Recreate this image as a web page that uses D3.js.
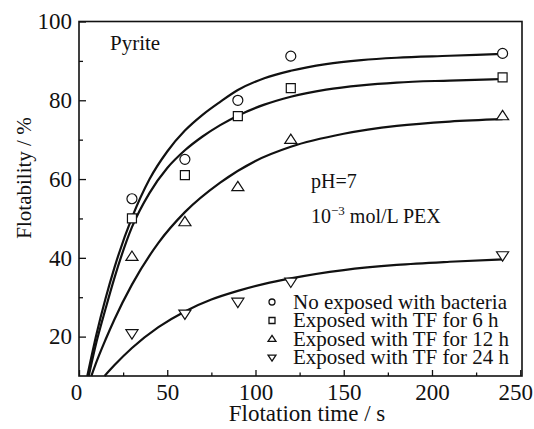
<!DOCTYPE html>
<html>
<head>
<meta charset="utf-8">
<script src="https://cdn.jsdelivr.net/npm/d3@7"></script>
<style>
  body { margin: 0; background: #fff; }
  text { font-family: "Liberation Serif", "Times New Roman", serif; fill: #111; }
</style>
</head>
<body>
<div id="chart"></div>
<script>
// measured points (flotation time in s, flotability in %)
var times = [30, 60, 90, 120, 240];
var noExposed = [55, 65, 80, 91.2, 91.9];
var tf6h = [50, 61, 76, 83.1, 85.8];
var tf12h = [40.3, 49.1, 58, 70, 76];
var tf24h = [20.8, 25.8, 28.8, 33.9, 40.6];

// fitted curves: [time, flotability]
var fitNoExposed = [[4.7, 10], [10, 20.8], [15, 29.6], [20, 37.4], [30, 50.2], [40, 60], [50, 67], [60, 72.3], [70, 76.3], [80, 79.6], [90, 82.6], [105, 85.6], [120, 87.5], [140, 89.2], [160, 90.2], [180, 90.8], [210, 91.3], [240, 91.8]];
var fitTf6h = [[5.5, 10], [10, 18.8], [15, 27], [20, 34.8], [30, 47.8], [40, 56.5], [50, 62.8], [60, 67.3], [70, 70.8], [80, 73.7], [90, 76.1], [105, 78.9], [120, 80.9], [140, 82.7], [160, 83.8], [180, 84.5], [210, 85], [240, 85.4]];
var fitTf12h = [[7, 10], [10, 13.7], [15, 19.2], [20, 24.3], [30, 33.2], [45, 43.8], [60, 51.6], [80, 59.1], [100, 64.6], [120, 68.2], [150, 71.5], [180, 73.5], [210, 74.6], [240, 75.2]];
var fitTf24h = [[14.5, 10], [20, 12.7], [30, 17.1], [45, 22.4], [60, 26.4], [75, 29.4], [90, 31.6], [105, 33.4], [120, 34.8], [150, 36.9], [180, 38.2], [210, 39], [240, 39.6]];

var seriesNames = ["No exposed with bacteria", "Exposed with TF for 6 h", "Exposed with TF for 12 h", "Exposed with TF for 24 h"];
var seriesShapes = ["circle", "square", "triangleUp", "triangleDown"];

var xTicks = [0, 50, 100, 150, 200, 250];
var xMinor = [25, 75, 125, 175, 225];
var yTicks = [20, 40, 60, 80, 100];
var yMinor = [30, 50, 70, 90];

var svgWidth = 534;
var svgHeight = 429;

var svg = d3.select("#chart")
  .append("svg")
  .attr("width", svgWidth)
  .attr("height", svgHeight);

svg.append("rect")
  .attr("width", svgWidth)
  .attr("height", svgHeight)
  .attr("fill", "#fff");

var x = d3.scaleLinear().domain([0, 251]).range([79, 522]);
var y = d3.scaleLinear().domain([10, 100]).range([376, 21.5]);

// axes with inward ticks
svg.append("g")
  .attr("transform", `translate(0, ${y(10)})`)
  .call(d3.axisBottom(x).tickValues(xTicks).tickSize(-6).tickPadding(8));
svg.append("g")
  .attr("transform", `translate(0, ${y(10)})`)
  .call(d3.axisBottom(x).tickValues(xMinor).tickSize(-3.5).tickFormat(""));
svg.append("g")
  .attr("transform", `translate(${x(0)}, 0)`)
  .call(d3.axisLeft(y).tickValues(yTicks).tickSize(-7).tickPadding(7));
svg.append("g")
  .attr("transform", `translate(${x(0)}, 0)`)
  .call(d3.axisLeft(y).tickValues(yMinor).tickSize(-4).tickFormat(""));

svg.selectAll(".domain").remove();
svg.selectAll(".tick line").attr("stroke", "#111").attr("stroke-width", 1.3);
svg.selectAll(".tick text")
  .style("font-family", '"Liberation Serif", serif')
  .style("font-size", "23px")
  .attr("fill", "#111");
// last x label sits slightly inside the page edge
svg.selectAll(".tick text").filter(d => d == 250).attr("dx", -5);
svg.selectAll(".tick text").filter(d => d == 0).attr("dx", -3);

// frame
svg.append("rect")
  .attr("x", x(0))
  .attr("y", y(100))
  .attr("width", x(251) - x(0))
  .attr("height", y(10) - y(100))
  .attr("fill", "none")
  .attr("stroke", "#111")
  .attr("stroke-width", 1.6);

// axis titles
svg.append("text")
  .attr("transform", "translate(31, 178) rotate(-90)")
  .attr("text-anchor", "middle")
  .style("font-size", "21px")
  .text("Flotability / %");

svg.append("text")
  .attr("x", 307)
  .attr("y", 421)
  .attr("text-anchor", "middle")
  .style("font-size", "23px")
  .text("Flotation time / s");

// fitted curves
var line = d3.line()
  .x(d => x(d[0]))
  .y(d => y(d[1]))
  .curve(d3.curveMonotoneX);

[fitNoExposed, fitTf6h, fitTf12h, fitTf24h].forEach(function(fit) {
  svg.append("path")
    .datum(fit)
    .attr("d", line)
    .attr("fill", "none")
    .attr("stroke", "#111")
    .attr("stroke-width", 2.2);
});

// marker shapes, s = half size
function shapePath(shape, s) {
  if (shape == "circle") {
    var p = d3.path();
    p.moveTo(s, 0);
    p.arc(0, 0, s, 0, 2 * Math.PI);
    return p.toString();
  }
  if (shape == "square") {
    return `M${-s},${-s}H${s}V${s}H${-s}Z`;
  }
  var h = s * 1.7;
  if (shape == "triangleUp") {
    return `M0,${-h * 0.6}L${s * 1.1},${h * 0.4}L${-s * 1.1},${h * 0.4}Z`;
  }
  return `M0,${h * 0.6}L${s * 1.1},${-h * 0.4}L${-s * 1.1},${-h * 0.4}Z`;
}

var markerSize = {circle: 5, square: 4.5, triangleUp: 5.5, triangleDown: 5.5};

[noExposed, tf6h, tf12h, tf24h].forEach(function(vals, i) {
  var shape = seriesShapes[i];
  svg.selectAll(".pt" + i)
    .data(vals)
    .enter()
    .append("path")
    .attr("class", "pt" + i)
    .attr("transform", (d, j) => `translate(${x(times[j])}, ${y(d)})`)
    .attr("d", shapePath(shape, markerSize[shape]))
    .attr("fill", "#fff")
    .attr("stroke", "#111")
    .attr("stroke-width", 1.2);
});

// annotations
svg.append("text")
  .attr("x", 110)
  .attr("y", 50)
  .style("font-size", "21px")
  .text("Pyrite");

svg.append("text")
  .attr("x", 311)
  .attr("y", 188)
  .style("font-size", "20px")
  .text("pH=7");

var pex = svg.append("text")
  .attr("x", 311)
  .attr("y", 223)
  .style("font-size", "20px");
pex.append("tspan").text("10");
pex.append("tspan").attr("dy", -8).style("font-size", "13px").text("−3");
pex.append("tspan").attr("dy", 8).text(" mol/L PEX");

// legend
var legend = svg.selectAll(".legendRow")
  .data(seriesNames)
  .enter()
  .append("g")
  .attr("class", "legendRow")
  .attr("transform", (d, i) => `translate(272, ${302 + i * 18.5})`);

legend.append("path")
  .attr("d", (d, i) => shapePath(seriesShapes[i], seriesShapes[i] == "triangleUp" || seriesShapes[i] == "triangleDown" ? 3.6 : 3))
  .attr("fill", "#fff")
  .attr("stroke", "#111")
  .attr("stroke-width", 1.3);

legend.append("text")
  .attr("x", 21)
  .attr("y", 6.5)
  .style("font-size", "21px")
  .text(d => d);
</script>
</body>
</html>
